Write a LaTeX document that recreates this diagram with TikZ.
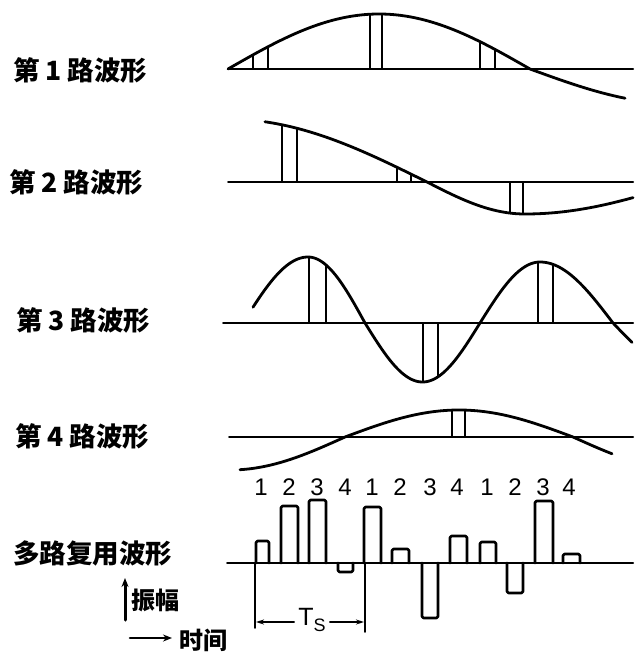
\documentclass[tikz,border=0pt]{standalone}
\usepackage{fontspec}
\setmainfont{Liberation Sans}
\newfontfamily\cjk{Noto Sans CJK SC}
\usetikzlibrary{arrows.meta}
\begin{document}
\begin{tikzpicture}[x=1pt,y=-1pt, line cap=round, line join=round,
  wave/.style={line width=2.8pt},
  axisline/.style={line width=2pt},
  sampleline/.style={line width=1.8pt},
  pulse/.style={line width=2.6pt, rounded corners=1.5pt},
  lab/.style={font=\cjk\bfseries\fontsize{26.5}{26.5}\selectfont, anchor=west, inner sep=0pt},
  num/.style={font=\fontsize{24}{24}\selectfont, inner sep=0pt},
  declare function={
    fa(\x)=69-((\x<=530)?55:35)*sin((\x-228)/302*180);
    fb(\x)=(\x<=427)?(182-63*sin((427-\x)/200*90)):((\x<=525)?(182+32*sin((\x-427)/98*90)):(182+32*cos((\x-525)/160*90)));
    fc(\x)=(\x<=308)?(323-66*cos((308-\x)/65*90)):((\x<=365)?(323-66*cos((\x-308)/57*90)):((\x<=480)?(323+59*sin((\x-365)/115*180)):((\x<=540)?(323-61*cos((540-\x)/60*90)):((\x<=613)?(323-61*cos((\x-540)/73*90)):(323+50*sin((\x-613)/75*90))))));
    fd(\x)=((\x>=345)&&(\x<=573))?(437-27*sin((\x-345)/228*180)):((\x<345)?(437+33*sin((345-\x)/115*90)):(437+33*sin((\x-573)/115*90)));
  }]
\useasboundingbox (0,0) rectangle (636,660);

% labels
\node[lab] (l1) at (13,70) {第 1 路波形};
\node[lab] (l2) at (9,182) {第 2 路波形};
\node[lab] (l3) at (16,320) {第 3 路波形};
\node[lab] (l4) at (15,436) {第 4 路波形};
\node[lab] (l5) at (13,553) {多路复用波形};

% wave 1
\draw[axisline] (228,69) -- (633,69);
\draw[wave] plot[domain=228:625,samples=160] (\x,{fa(\x)});
\foreach \s in {253,268,370,382,480,495}
  \draw[sampleline] (\s,69) -- (\s,{fa(\s)});

% wave 2
\draw[axisline] (228,182) -- (633,182);
\draw[wave] plot[domain=265:633,samples=160] (\x,{fb(\x)});
\foreach \s in {282,297,397,411,510,523}
  \draw[sampleline] (\s,182) -- (\s,{fb(\s)});

% wave 3
\draw[axisline] (223,323) -- (633,323);
\draw[wave] plot[domain=253:632,samples=200] (\x,{fc(\x)});
\foreach \s in {309,326,423,438,538,553}
  \draw[sampleline] (\s,323) -- (\s,{fc(\s)});

% wave 4
\draw[axisline] (229,437) -- (633,437);
\draw[wave] plot[domain=240:612,samples=160] (\x,{fd(\x)});
\foreach \s in {452,465}
  \draw[sampleline] (\s,437) -- (\s,{fd(\s)});

% multiplexed
\draw[axisline] (227,563) -- (633,563);
\foreach \a/\b/\t in {256/269/541, 281/298/506, 309/326/500, 338/353/572,
  364/381/507, 392/409/549, 422/438/618, 450/467/536,
  480/496/542, 507/523/593, 535/553/501, 563/580/554}
  \draw[pulse] (\a,563) -- (\a,\t) -- (\b,\t) -- (\b,563);

\foreach \px/\d [count=\i] in {261/1,289/2,317/3,345/4,372/1,400/2,430/3,457/4,487/1,515/2,543/3,569/4}
  \node[num] (n\i) at (\px,487) {\d};

% Ts
\coordinate (tsa) at (255,563);
\coordinate (tsb) at (255,628);
\coordinate (tsc) at (365,563);
\coordinate (tsd) at (365,632);
\draw[line width=1.6pt] (tsa) -- (tsb);
\draw[line width=1.6pt] (tsc) -- (tsd);
\node[font=\fontsize{25}{25}\selectfont, inner sep=1pt] (ts) at (312,620) {T\raisebox{-0.45ex}{\fontsize{18}{18}\selectfont S}};
\coordinate (tsl) at (256,622);
\coordinate (tsr) at (364,622);
\draw[line width=1.5pt, -{Stealth[length=8pt,width=5pt]}] ([xshift=-3pt,yshift=-2pt]ts.west) -- (tsl);
\draw[line width=1.5pt, -{Stealth[length=8pt,width=5pt]}] ([xshift=3pt,yshift=-2pt]ts.east) -- (tsr);

% legend
\coordinate (amp0) at (125,620);
\coordinate (amp1) at (125,578);
\draw[line width=3pt, -{Stealth[length=9pt,width=7pt]}] (amp0) -- (amp1);
\node[lab, font=\cjk\bfseries\fontsize{24}{24}\selectfont] (amp) at (131,600) {振幅};
\coordinate (t0) at (130,638);
\coordinate (t1) at (172,638);
\draw[line width=2.6pt, -{Stealth[length=9pt,width=7pt]}] (t0) -- (t1);
\node[lab, font=\cjk\bfseries\fontsize{24}{24}\selectfont] (tim) at (179,640) {时间};
\end{tikzpicture}
\end{document}
